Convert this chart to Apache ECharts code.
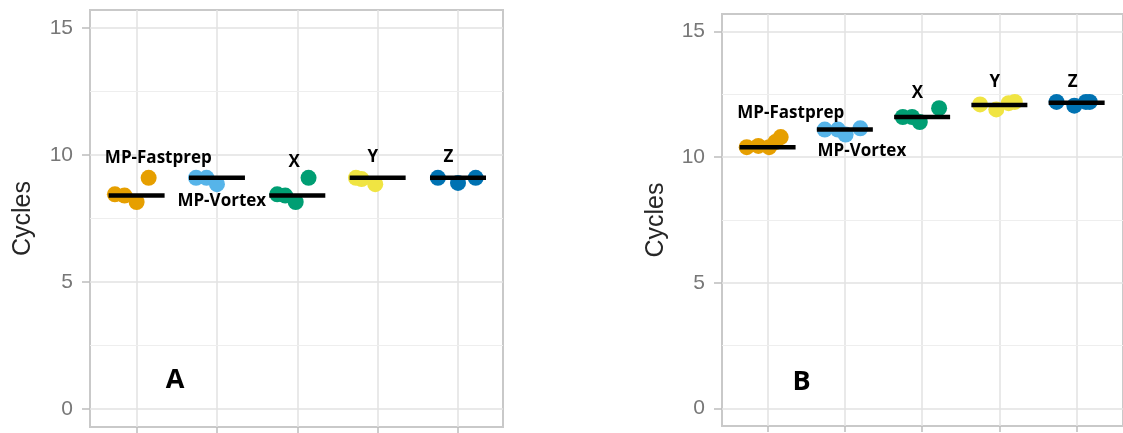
<!DOCTYPE html>
<html>
<head>
<meta charset="utf-8">
<script src="https://cdn.jsdelivr.net/npm/echarts@6/dist/echarts.min.js"></script>
<style>
html,body{margin:0;padding:0;background:#fff;}
#chart{width:1123px;height:433px;}
</style>
</head>
<body>
<div id="chart"></div>
<script>
// ---- data ----
const categories = ['MP-Fastprep', 'MP-Vortex', 'X', 'Y', 'Z'];
const colors = ['#E69F00', '#56B4E9', '#009E73', '#F0E442', '#0072B2'];
const yTicks = [0, 5, 10, 15];
const yMinorTicks = [2.5, 7.5, 12.5];

// Panel A
const valuesA = [
  [8.45, 8.4, 8.15, 9.1],
  [9.1, 9.1, 8.85],
  [8.45, 8.4, 8.15, 9.1],
  [9.1, 9.05, 8.85],
  [9.1, 8.9, 9.1]
];
const jitterA = [
  [-0.27, -0.15, 0.0, 0.15],
  [-0.26, -0.13, 0.0],
  [-0.25, -0.15, -0.02, 0.14],
  [-0.27, -0.2, -0.03],
  [-0.25, 0.0, 0.22]
];
const mediansA = [8.4, 9.1, 8.4, 9.1, 9.1];

// Panel B
const valuesB = [
  [10.4, 10.45, 10.4, 10.6, 10.8],
  [11.1, 11.1, 10.9, 11.15],
  [11.6, 11.6, 11.4, 11.95],
  [12.1, 11.9, 12.15, 12.2],
  [12.2, 12.05, 12.2, 12.2]
];
const jitterB = [
  [-0.27, -0.12, 0.02, 0.1, 0.17],
  [-0.26, -0.09, 0.01, 0.2],
  [-0.25, -0.13, -0.03, 0.22],
  [-0.25, -0.04, 0.12, 0.2],
  [-0.26, -0.03, 0.12, 0.17]
];
const mediansB = [10.4, 11.1, 11.6, 12.08, 12.17];

// annotation anchors (data units)
const labelPosA = [[0.27, 9.89], [1.06, 8.17], [1.96, 9.7], [2.94, 9.93], [3.88, 9.93]];
const labelPosB = [[0.30, 11.76], [1.22, 10.25], [1.94, 12.56], [2.94, 13.0], [3.95, 13.0]];
const panelNames = ['A', 'B'];
const panelLetterPos = [[0.48, 1.14], [0.44, 1.03]];

// ---- chart ----
const chart = echarts.init(document.getElementById('chart'), null, {renderer: 'canvas'});

const gridColor = '#e2e2e2';
const borderColor = '#c9c9c9';
const tickColor = '#bdbdbd';

function xAxisFor(idx, min, max) {
  return {
    type: 'value', gridIndex: idx, min: min, max: max, position: 'bottom',
    axisLine: {show: false, onZero: false},
    axisTick: {show: true, inside: false, length: 6, customValues: [0, 1, 2, 3, 4], lineStyle: {color: tickColor, width: 1.5}},
    axisLabel: {show: false, customValues: [0, 1, 2, 3, 4]},
    splitLine: {show: true, lineStyle: {color: gridColor, width: 1.5}}
  };
}
function yAxisFor(idx, gap) {
  return {
    type: 'value', gridIndex: idx, min: -0.7, max: 15.7, position: 'left',
    name: 'Cycles', nameLocation: 'middle', nameGap: gap, nameRotate: 90,
    nameTextStyle: {fontFamily: 'Liberation Sans', fontSize: 25, color: '#262626'},
    axisLine: {show: false, onZero: false},
    axisTick: {show: true, inside: false, length: 8, customValues: yTicks, lineStyle: {color: tickColor, width: 1.5}},
    axisLabel: {customValues: yTicks, margin: 17, fontFamily: 'Liberation Sans', fontSize: 21, color: '#777777'},
    splitLine: {show: true, lineStyle: {color: gridColor, width: 1.5}}
  };
}

const series = [];
function addPanel(idx, values, jitter, medians, labelPos) {
  categories.forEach(function (cat, i) {
    series.push({
      type: 'scatter', xAxisIndex: idx, yAxisIndex: idx, z: 2,
      symbol: 'circle', symbolSize: 16,
      itemStyle: {color: colors[i], opacity: 1},
      data: values[i].map(function (v, k) { return [i + jitter[i][k], v]; }),
      markLine: i === 0 ? {
        silent: true, symbol: 'none', z: 0,
        label: {show: false},
        lineStyle: {color: '#eeeeee', width: 1, type: 'solid', opacity: 1},
        data: yMinorTicks.map(function (t) { return {yAxis: t}; })
      } : undefined
    });
  });
  series.push({
    type: 'scatter', xAxisIndex: idx, yAxisIndex: idx, z: 3,
    symbol: 'rect', symbolSize: [56, 4.5],
    itemStyle: {color: '#000000', opacity: 1},
    data: medians.map(function (m, i) { return [i, m]; })
  });
  series.push({
    type: 'scatter', xAxisIndex: idx, yAxisIndex: idx, z: 4,
    symbolSize: 1, itemStyle: {color: 'rgba(0,0,0,0)'},
    label: {show: true, position: 'inside', formatter: '{b}', opacity: 1,
      fontFamily: 'Open Sans', fontWeight: 'bold', fontSize: 17, color: '#000000'},
    data: categories.map(function (c, i) { return {name: c, value: labelPos[i]}; })
  });
  series.push({
    type: 'scatter', xAxisIndex: idx, yAxisIndex: idx, z: 4,
    symbolSize: 1, itemStyle: {color: 'rgba(0,0,0,0)'},
    label: {show: true, position: 'inside', formatter: '{b}', opacity: 1,
      fontFamily: 'Open Sans', fontWeight: 'bold', fontSize: 27, color: '#000000'},
    data: [{name: panelNames[idx], value: panelLetterPos[idx]}]
  });
}
addPanel(0, valuesA, jitterA, mediansA, labelPosA);
addPanel(1, valuesB, jitterB, mediansB, labelPosB);

chart.setOption({
  animation: false,
  backgroundColor: '#ffffff',
  grid: [
    {left: 90, top: 10, right: 620, bottom: 6, show: true, borderColor: borderColor, borderWidth: 2, containLabel: false},
    {left: 722, top: 14, right: -12, bottom: 7, show: true, borderColor: borderColor, borderWidth: 2, containLabel: false}
  ],
  xAxis: [xAxisFor(0, -0.58, 4.56), xAxisFor(1, -0.59, 4.6)],
  yAxis: [yAxisFor(0, 54), yAxisFor(1, 53)],
  series: series
});
</script>
</body>
</html>
